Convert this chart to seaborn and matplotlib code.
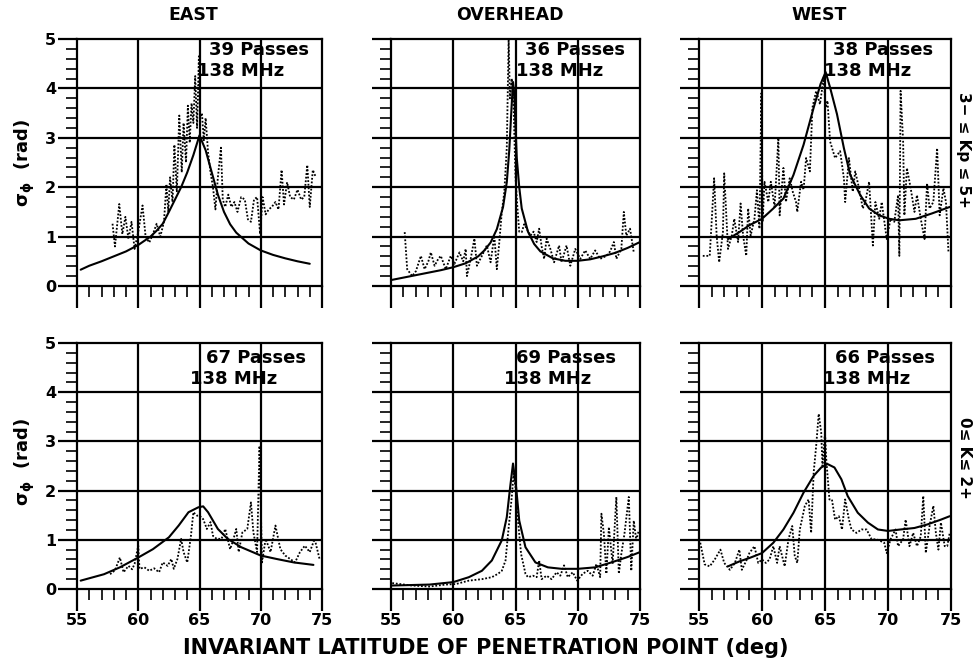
import matplotlib
matplotlib.use("Agg")
import matplotlib.pyplot as plt
import seaborn as sns
from matplotlib.ticker import MultipleLocator, FixedLocator

# -------------------------------------------------
# data (invariant latitude, sigma_phi)
# solid = fitted curve, dotted = measured
# -------------------------------------------------

# EAST, 3- <= Kp <= 5+
tl_sx = [55.3, 56, 57, 58, 59, 60, 61, 61.5, 62, 62.5, 63, 63.5, 64, 64.5, 65, 65.5,
         66, 66.5, 67, 67.5, 68, 69, 70, 71, 72, 73, 74]
tl_sy = [0.33, 0.41, 0.5, 0.6, 0.7, 0.83, 1.0, 1.12, 1.26, 1.5, 1.75, 2.0, 2.3, 2.65, 3.05, 2.75,
         2.3, 1.85, 1.5, 1.25, 1.08, 0.86, 0.72, 0.63, 0.56, 0.5, 0.45]
tl_dx = [57.9, 58.1, 58.45, 58.7, 58.95, 59.2, 59.45, 59.7, 60.0, 60.35, 60.6, 60.9, 61.2, 61.5,
         61.8, 62.1, 62.3, 62.45, 62.6, 62.8, 62.95, 63.15, 63.35, 63.55, 63.7, 63.9, 64.05, 64.2,
         64.35, 64.5, 64.65, 64.8, 64.95, 65.05, 65.2, 65.35, 65.5, 65.7, 65.9, 66.1, 66.3, 66.5,
         66.75, 66.9, 67.1, 67.35, 67.6, 67.85, 68.1, 68.4, 68.7, 68.95, 69.2, 69.45, 69.7, 69.95,
         70.15, 70.4, 70.65, 70.9, 71.2, 71.45, 71.7, 71.9, 72.15, 72.4, 72.7, 73.0, 73.3, 73.55,
         73.8, 74.0, 74.25, 74.5]
tl_dy = [1.26, 0.8, 1.66, 1.05, 1.4, 0.95, 1.3, 0.75, 1.1, 1.63, 1.0, 0.88, 1.05, 1.26,
         1.0, 1.3, 2.06, 1.5, 2.2, 1.7, 2.86, 1.9, 3.45, 2.3, 3.3, 2.5, 3.65, 2.9,
         3.7, 3.3, 4.25, 3.2, 4.65, 3.4, 3.5, 2.95, 3.4, 2.7, 2.3, 2.0, 1.55, 2.2,
         2.8, 1.75, 1.6, 1.85, 1.6, 1.7, 1.5, 1.8, 1.75, 1.35, 1.3, 1.75, 1.8, 1.05,
         1.8, 1.45, 1.55, 1.6, 1.7, 1.55, 2.35, 1.65, 2.1, 1.8, 1.75, 1.95, 1.75, 1.8,
         2.45, 1.6, 2.35, 2.2]

# OVERHEAD, 3- <= Kp <= 5+
tm_sx = [55, 56, 57, 58, 59, 60, 61, 62, 62.5, 63, 63.5, 64, 64.3, 64.5, 64.7, 64.8, 64.9,
         65.1, 65.3, 65.5, 66, 66.5, 67, 68, 69, 70, 71, 72, 73, 74, 75]
tm_sy = [0.12, 0.17, 0.22, 0.27, 0.32, 0.38, 0.46, 0.6, 0.72, 0.88, 1.15, 1.6, 2.1, 2.75, 3.7, 4.13, 3.9,
         2.6, 2.0, 1.57, 1.1, 0.85, 0.7, 0.56, 0.51, 0.51, 0.54, 0.6, 0.67, 0.77, 0.89]
tm_dx = [56.1, 56.3, 56.7, 57.0, 57.4, 57.7, 58.0, 58.2, 58.5, 58.8, 59.0, 59.4, 59.8, 60.1,
         60.5, 60.8, 61.0, 61.1, 61.4, 61.7, 61.9, 62.3, 62.7, 63.0, 63.3, 63.5, 63.7, 63.9,
         64.1, 64.3, 64.45, 64.55, 64.7, 64.85, 65.0, 65.15, 65.3, 65.5, 65.7, 65.9, 66.2, 66.45,
         66.7, 66.9, 67.1, 67.3, 67.5, 67.8, 68.1, 68.5, 68.7, 69.1, 69.4, 69.8, 70.2, 70.6,
         71.0, 71.4, 71.8, 72.3, 72.6, 72.9, 73.1, 73.5, 73.7, 73.9, 74.2, 74.5]
tm_dy = [1.09, 0.34, 0.2, 0.3, 0.61, 0.34, 0.5, 0.68, 0.41, 0.55, 0.61, 0.34, 0.61, 0.45,
         0.68, 0.5, 0.75, 0.2, 0.55, 0.96, 0.41, 0.61, 0.82, 0.48, 1.02, 0.34, 0.89, 1.5,
         1.9, 2.8, 5.0, 3.8, 4.2, 3.6, 2.2, 1.6, 1.1, 1.09, 1.25, 1.16, 1.02, 1.1,
         0.89, 1.16, 0.8, 0.55, 0.96, 0.75, 0.48, 0.82, 0.48, 0.82, 0.41, 0.75, 0.55, 0.72,
         0.55, 0.72, 0.55, 0.61, 0.7, 0.89, 0.55, 0.75, 1.5, 1.02, 1.16, 0.68]

# WEST, 3- <= Kp <= 5+
tr_sx = [57.3, 58.2, 59, 60, 60.9, 61.7, 62.5, 63.3, 64.1, 64.65, 65.05, 65.4, 65.95, 66.5,
         67, 67.8, 68.5, 69.3, 70.1, 70.9, 72.2, 73.5, 74.9]
tr_sy = [0.95, 1.09, 1.23, 1.36, 1.57, 1.77, 2.25, 2.86, 3.61, 4.09, 4.33, 4.02, 3.48, 2.79,
         2.25, 1.84, 1.57, 1.43, 1.36, 1.33, 1.36, 1.47, 1.6]
tr_dx = [55.3, 55.85, 56.2, 56.4, 56.6, 56.9, 57.0, 57.3, 57.6, 57.8, 58.1, 58.3, 58.5, 58.75,
         58.9, 59.1, 59.4, 59.6, 59.8, 59.95, 60.05, 60.2, 60.5, 60.7, 61.0, 61.3, 61.4, 61.7,
         61.9, 62.2, 62.45, 62.7, 62.8, 63.1, 63.3, 63.5, 63.8, 64.0, 64.3, 64.6, 64.9, 65.05,
         65.2, 65.4, 65.8, 66.2, 66.5, 66.6, 66.9, 67.2, 67.4, 67.7, 68.0, 68.2, 68.5, 68.8,
         69.0, 69.3, 69.5, 69.9, 70.2, 70.5, 70.8, 70.9, 71.0, 71.2, 71.3, 71.5, 71.8, 72.1,
         72.3, 72.6, 72.9, 73.1, 73.3, 73.6, 73.9, 74.1, 74.4, 74.6, 74.8]
tr_dy = [0.61, 0.61, 2.18, 1.02, 0.48, 1.09, 2.28, 0.75, 1.02, 1.36, 0.89, 1.67, 1.02, 0.61,
         1.57, 1.02, 1.36, 1.94, 1.16, 3.9, 1.3, 2.11, 1.7, 2.11, 1.6, 3.0, 1.43, 2.39,
         1.7, 2.18, 1.9, 1.7, 1.5, 2.11, 1.95, 2.59, 2.32, 3.61, 3.95, 3.68, 4.23, 3.61,
         3.75, 2.93, 2.59, 2.73, 2.18, 1.7, 2.59, 1.91, 2.32, 1.98, 1.57, 1.7, 2.11, 0.82,
         1.7, 1.36, 1.7, 0.95, 1.36, 1.3, 1.84, 0.61, 3.95, 2.93, 1.43, 2.39, 1.98, 1.5,
         1.84, 1.36, 0.95, 2.08, 1.57, 1.7, 2.79, 1.43, 1.98, 1.7, 0.68]

# EAST, 0 <= K <= 2+
bl_sx = [55.3, 57.2, 58.5, 60, 61.2, 62.5, 63.3, 64.1, 64.9, 65.3, 65.7, 66.5, 67.3, 68.4,
         70, 71.3, 72.7, 74.3]
bl_sy = [0.17, 0.3, 0.44, 0.64, 0.81, 1.05, 1.29, 1.56, 1.66, 1.68, 1.56, 1.22, 1.02, 0.85,
         0.68, 0.61, 0.54, 0.49]
bl_dx = [57.7, 58.1, 58.5, 58.8, 59.2, 59.5, 59.7, 60.0, 60.1, 60.5, 60.9, 61.3, 61.7, 62.0,
         62.4, 62.7, 62.9, 63.2, 63.5, 63.7, 64.0, 64.3, 64.5, 64.8, 65.0, 65.3, 65.6, 65.9,
         66.1, 66.4, 66.8, 67.1, 67.5, 67.7, 68.0, 68.2, 68.5, 68.9, 69.2, 69.4, 69.7, 69.9,
         70.1, 70.4, 70.8, 71.2, 71.6, 72.0, 72.4, 72.8, 73.2, 73.6, 74.0, 74.4, 74.8]
bl_dy = [0.3, 0.38, 0.64, 0.34, 0.47, 0.4, 0.51, 0.88, 0.41, 0.44, 0.37, 0.42, 0.34, 0.54,
         0.47, 0.61, 0.41, 0.61, 1.02, 0.75, 0.54, 1.08, 1.56, 1.49, 1.49, 1.42, 1.22, 1.36,
         1.08, 1.02, 1.02, 1.22, 0.81, 0.95, 1.22, 0.75, 1.15, 1.22, 1.76, 1.15, 0.75, 2.91,
         0.54, 1.02, 0.75, 1.29, 0.81, 0.68, 0.61, 0.54, 0.75, 0.88, 0.75, 1.02, 0.61]

# OVERHEAD, 0 <= K <= 2+
bm_sx = [55, 58.1, 60, 61.25, 62.3, 63.1, 63.9, 64.3, 64.57, 64.8, 65.05, 65.3, 65.8, 66.6,
         67.6, 68.7, 70, 71.4, 72.7, 74, 75]
bm_sy = [0.07, 0.09, 0.14, 0.24, 0.37, 0.58, 0.99, 1.46, 2.07, 2.55, 2.07, 1.39, 0.85, 0.54,
         0.44, 0.41, 0.41, 0.44, 0.54, 0.65, 0.75]
bm_dx = [55.1, 56.7, 58.1, 59.4, 60.2, 61.25, 62.3, 63.1, 63.6, 63.9, 64.2, 64.4, 64.7, 64.85,
         65.0, 65.1, 65.3, 65.45, 65.8, 66.0, 66.4, 66.7, 66.9, 67.1, 67.5, 67.9, 68.3, 68.6,
         68.9, 69.2, 69.6, 69.95, 70.4, 70.8, 71.2, 71.5, 71.8, 71.9, 72.1, 72.3, 72.5, 72.8,
         73.1, 73.3, 73.5, 73.75, 74.1, 74.3, 74.5, 74.7, 74.9]
bm_dy = [0.12, 0.07, 0.05, 0.09, 0.1, 0.17, 0.2, 0.24, 0.31, 0.37, 0.58, 1.12, 1.87, 2.35,
         2.07, 1.67, 1.12, 0.71, 0.31, 0.24, 0.27, 0.24, 0.58, 0.2, 0.27, 0.2, 0.34, 0.27,
         0.48, 0.24, 0.34, 0.17, 0.31, 0.37, 0.27, 0.51, 0.24, 1.53, 1.12, 0.31, 1.26, 0.51,
         1.87, 0.31, 0.71, 1.12, 1.87, 0.37, 1.39, 0.99, 1.19]

# WEST, 0 <= K <= 2+
br_sx = [57.3, 58.2, 59, 60, 60.9, 61.7, 62.5, 63.3, 64.1, 64.7, 65.2, 65.75, 66.3, 66.8,
         67.6, 68.4, 69.2, 70, 71, 72.1, 73.1, 74.2, 74.9]
br_sy = [0.46, 0.56, 0.63, 0.73, 0.94, 1.21, 1.55, 1.96, 2.3, 2.47, 2.54, 2.47, 2.23, 1.89,
         1.55, 1.35, 1.21, 1.18, 1.21, 1.24, 1.31, 1.41, 1.48]
br_dx = [55.1, 55.45, 55.85, 56.25, 56.7, 57.0, 57.45, 57.85, 58.2, 58.4, 58.8, 59.0, 59.4, 59.7,
         60.0, 60.3, 60.6, 60.9, 61.2, 61.4, 61.8, 62.1, 62.4, 62.6, 62.8, 63.0, 63.4, 63.7,
         63.9, 64.1, 64.3, 64.5, 64.7, 64.8, 65.0, 65.1, 65.35, 65.55, 65.8, 66.1, 66.35, 66.6,
         66.9, 67.1, 67.5, 67.9, 68.3, 68.7, 69.1, 69.7, 69.9, 70.2, 70.6, 70.8, 71.2, 71.4,
         71.7, 72.0, 72.3, 72.6, 72.8, 73.0, 73.3, 73.6, 73.8, 74.0, 74.2, 74.5, 74.7, 74.9]
br_dy = [0.94, 0.5, 0.46, 0.6, 0.8, 0.53, 0.39, 0.53, 0.8, 0.39, 0.6, 0.73, 0.87, 0.53,
         0.6, 0.53, 0.6, 0.87, 0.53, 0.87, 0.46, 1.01, 1.28, 0.67, 0.53, 1.21, 1.69, 1.82,
         1.14, 2.37, 2.91, 3.56, 3.18, 2.5, 3.18, 2.64, 1.82, 1.82, 1.41, 1.48, 1.21, 1.82,
         1.41, 1.21, 1.14, 1.21, 1.21, 1.01, 1.01, 0.94, 0.73, 1.01, 1.21, 0.87, 1.01, 1.41,
         0.87, 1.14, 0.87, 1.07, 1.89, 0.73, 1.28, 1.69, 1.14, 0.8, 1.35, 0.87, 0.87, 1.14]

columns = ["EAST", "OVERHEAD", "WEST"]
passes = [39, 36, 38, 67, 69, 66]
freq_label = "138 MHz"
row_labels = ["3\u2212 \u2264 Kp \u2264 5+", "0\u2264 K\u2264 2+"]
xticks = [55, 60, 65, 70, 75]
yticks = [0, 1, 2, 3, 4, 5]

panels = [
    (tl_sx, tl_sy, tl_dx, tl_dy),
    (tm_sx, tm_sy, tm_dx, tm_dy),
    (tr_sx, tr_sy, tr_dx, tr_dy),
    (bl_sx, bl_sy, bl_dx, bl_dy),
    (bm_sx, bm_sy, bm_dx, bm_dy),
    (br_sx, br_sy, br_dx, br_dy),
]

# -------------------------------------------------
# layout (pixel boxes of the original, 976 x 665)
# -------------------------------------------------
W, H = 976, 665
col_px = [(77, 322), (391, 640), (699, 951)]
row_px = [(39, 286), (343, 589)]
# where the "NN Passes" / "138 MHz" lines start, in data x
txt_x = [(65.75, 64.8), (65.8, 65.0), (65.6, 64.95),
         (65.5, 64.25), (65.0, 64.05), (65.8, 64.85)]

sns.set_style("white")
plt.rcParams['font.family'] = ['DejaVu Sans']
plt.rcParams['font.weight'] = 'bold'
plt.rcParams['mathtext.default'] = 'regular'
for k in ('text.color', 'axes.labelcolor', 'xtick.color', 'ytick.color', 'axes.edgecolor'):
    plt.rcParams[k] = 'black'

fig = plt.figure(figsize=(W / 100, H / 100), dpi=100)

LW = 1.6

for i, (sx, sy, dx, dy) in enumerate(panels):
    r, c = divmod(i, 3)
    x0, x1 = col_px[c]
    y0, y1 = row_px[r]
    ax = fig.add_axes([x0 / W, 1 - y1 / H, (x1 - x0) / W, (y1 - y0) / H])

    # grid
    for v in xticks[1:-1]:
        ax.axvline(v, color="black", lw=LW, zorder=1)
    for h in yticks[1:-1]:
        ax.axhline(h, color="black", lw=LW, zorder=1)

    sns.lineplot(x=sx, y=sy, ax=ax, color="black", lw=1.5,
                 estimator=None, sort=False, zorder=3)
    sns.lineplot(x=dx, y=dy, ax=ax, color="black", lw=1.3,
                 linestyle=(0, (1, 1)), estimator=None, sort=False, zorder=3)

    ax.set_xlim(55, 75)
    ax.set_ylim(0, 5)
    ax.xaxis.set_major_locator(FixedLocator(xticks))
    ax.xaxis.set_minor_locator(MultipleLocator(1))
    ax.yaxis.set_major_locator(FixedLocator(yticks))
    ax.yaxis.set_minor_locator(MultipleLocator(0.2))

    ax.tick_params(axis="x", which="major", direction="out", length=16, width=LW,
                   color="black", bottom=True, pad=1, labelsize=11.5)
    ax.tick_params(axis="x", which="minor", direction="out", length=8, width=1.2,
                   color="black", bottom=True)
    ax.tick_params(axis="y", which="major", direction="out", length=14, width=LW,
                   color="black", left=True, pad=1, labelsize=11.5)
    ax.tick_params(axis="y", which="minor", direction="out", length=8, width=1.2,
                   color="black", left=True)

    if r == 1:
        ax.set_xticklabels([str(t) for t in xticks], fontweight="bold")
    else:
        ax.set_xticklabels([])
    if c == 0:
        ax.set_yticklabels([str(t) for t in yticks], fontweight="bold")
    else:
        ax.set_yticklabels([])

    for sp in ax.spines.values():
        sp.set_visible(True)
        sp.set_color("black")
        sp.set_linewidth(LW)

    ax.set_xlabel("")
    ax.set_ylabel("")
    if ax.get_legend():
        ax.get_legend().remove()

    tx1, tx2 = txt_x[i]
    ax.text(tx1, 4.78 if r == 0 else 4.7, f"{passes[i]} Passes", fontsize=13,
            fontweight="bold", ha="left", va="center", zorder=5)
    ax.text(tx2, 4.35 if r == 0 else 4.27, freq_label, fontsize=13,
            fontweight="bold", ha="left", va="center", zorder=5)

# column headers
for c, name in enumerate(columns):
    x0, x1 = col_px[c]
    fig.text((x0 + x1) / 2 / W - 0.006, 1 - 15 / H, name, ha="center", va="center",
             fontsize=12.5, fontweight="bold")

# y labels
for yc in (163, 462):
    fig.text(25 / W, 1 - yc / H, r"$\sigma_\phi$  (rad)", rotation=90,
             ha="center", va="center", fontsize=13, fontweight="bold")

# row conditions on the right
for yc, lab in zip((150, 458), row_labels):
    fig.text(964 / W, 1 - yc / H, lab, rotation=270, ha="center", va="center",
             fontsize=11, fontweight="bold")

fig.text(486 / W, 1 - 648 / H, "INVARIANT LATITUDE OF PENETRATION POINT (deg)",
         ha="center", va="center", fontsize=15, fontweight="bold")

fig.savefig("out.png", dpi=100)
